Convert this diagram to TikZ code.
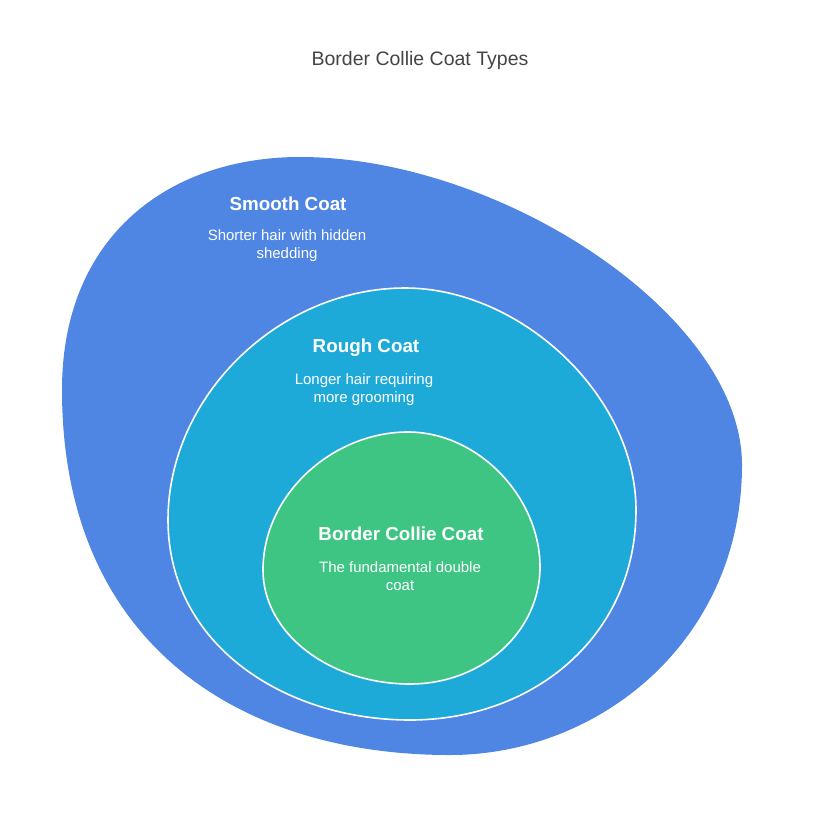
\documentclass[tikz,border=0pt]{standalone}
\usepackage{fontspec}
\setmainfont{Liberation Sans}
\definecolor{outerblue}{HTML}{4F86E3}
\definecolor{midcyan}{HTML}{1EAAD9}
\definecolor{innergreen}{HTML}{3EC583}
\definecolor{titlegrey}{HTML}{444444}
\tikzset{
  blob/.style={line width=1.6pt, draw=white},
  headtext/.style={text=white, font=\bfseries\fontsize{18.8}{22}\selectfont, inner sep=0pt},
  bodytext/.style={text=white, font=\fontsize{15}{18}\selectfont, align=center, inner sep=0pt},
  titletext/.style={text=titlegrey, font=\fontsize{19.5}{23}\selectfont, inner sep=0pt}
}
\begin{document}
\begin{tikzpicture}[x=1pt,y=-1pt]
\useasboundingbox (0,0) rectangle (840,817);
% outer blob
\fill[outerblue] (300,157) .. controls (500,157) and (742,315) .. (742,465)
  .. controls (742,640) and (600,755) .. (450,755)
  .. controls (235,755) and (62,640) .. (62,390)
  .. controls (62,235) and (170,157) .. (300,157) -- cycle;
% middle
\filldraw[blob, fill=midcyan] (405,288) .. controls (520,288) and (636,395) .. (636,510)
  .. controls (636,635) and (535,720) .. (410,720)
  .. controls (285,720) and (168,645) .. (168,520)
  .. controls (168,395) and (280,288) .. (405,288) -- cycle;
% inner
\filldraw[blob, fill=innergreen] (408,432) .. controls (478,432) and (540,497) .. (540,567)
  .. controls (540,632) and (482,684) .. (410,684)
  .. controls (329,684) and (263,633) .. (263,570)
  .. controls (263,494) and (333,432) .. (408,432) -- cycle;
% texts
\node[titletext] (title) at (420,60) {Border Collie Coat Types};
\node[headtext] (smoothh) at (288,204) {Smooth Coat};
\node[bodytext] (smoothb) at (287,246) {Shorter hair with hidden\\shedding};
\node[headtext] (roughh) at (366,348) {Rough Coat};
\node[bodytext] (roughb) at (364,390) {Longer hair requiring\\more grooming};
\node[headtext] (bcch) at (401,534) {Border Collie Coat};
\node[bodytext] (bccb) at (400,576) {The fundamental double\\coat};
\end{tikzpicture}
\end{document}
